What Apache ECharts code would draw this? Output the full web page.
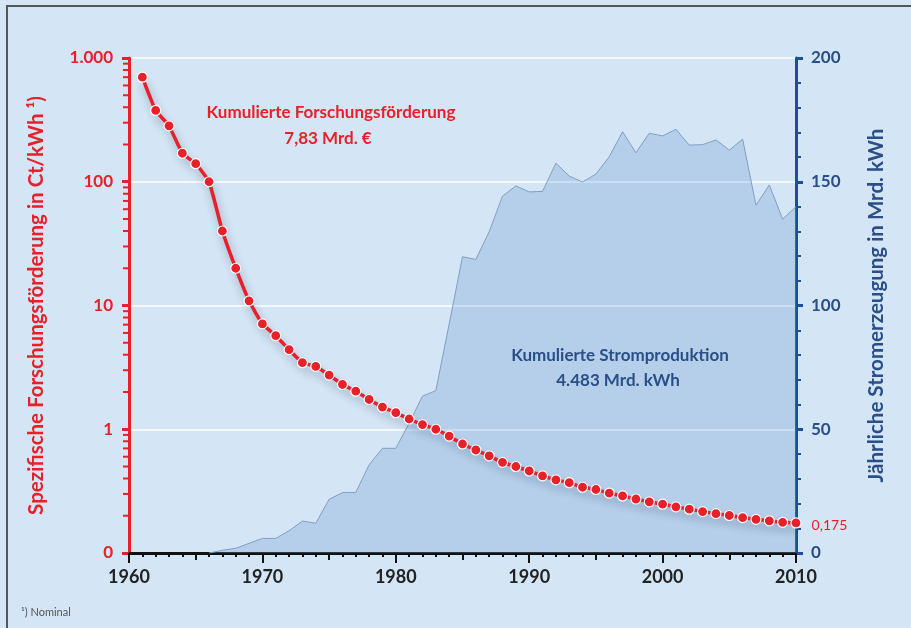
<!DOCTYPE html>
<html>
<head>
<meta charset="utf-8">
<script src="https://cdn.jsdelivr.net/npm/echarts@6/dist/echarts.min.js"></script>
<style>
  html, body { margin: 0; padding: 0; background: #d4e5f5; }
  #main { width: 911px; height: 628px; }
</style>
</head>
<body>
<div id="main"></div>
<script>
// Jahre mit Förderwerten (1961-2010)
const foerderJahre = [1961, 1962, 1963, 1964, 1965, 1966, 1967, 1968, 1969, 1970,
  1971, 1972, 1973, 1974, 1975, 1976, 1977, 1978, 1979, 1980,
  1981, 1982, 1983, 1984, 1985, 1986, 1987, 1988, 1989, 1990,
  1991, 1992, 1993, 1994, 1995, 1996, 1997, 1998, 1999, 2000,
  2001, 2002, 2003, 2004, 2005, 2006, 2007, 2008, 2009, 2010];
// Spezifische Forschungsförderung in Ct/kWh
const foerderung = [700, 377, 283, 170, 140, 100, 40, 20, 10.9, 7.1,
  5.7, 4.4, 3.45, 3.22, 2.74, 2.30, 2.03, 1.74, 1.51, 1.36,
  1.21, 1.09, 1.0, 0.88, 0.76, 0.68, 0.61, 0.54, 0.50, 0.46,
  0.42, 0.39, 0.37, 0.34, 0.326, 0.305, 0.289, 0.273, 0.259, 0.248,
  0.236, 0.226, 0.216, 0.208, 0.201, 0.193, 0.187, 0.182, 0.177, 0.175];

// Jährliche Stromerzeugung in Mrd. kWh (1966-2010)
const stromJahre = [1966, 1967, 1968, 1969, 1970,
  1971, 1972, 1973, 1974, 1975, 1976, 1977, 1978, 1979, 1980,
  1981, 1982, 1983, 1984, 1985, 1986, 1987, 1988, 1989, 1990,
  1991, 1992, 1993, 1994, 1995, 1996, 1997, 1998, 1999, 2000,
  2001, 2002, 2003, 2004, 2005, 2006, 2007, 2008, 2009, 2010];
const strom = [0, 1.1, 1.9, 3.9, 5.9,
  5.9, 9.0, 12.9, 12.0, 21.7, 24.4, 24.5, 35.6, 42.3, 42.3,
  52.4, 63.4, 65.6, 92.5, 119.7, 118.6, 129.8, 144.2, 148.3, 145.9,
  146.1, 157.5, 152.3, 149.9, 153.1, 160.1, 170.2, 161.7, 169.6, 168.5,
  171.2, 164.8, 165.0, 166.9, 162.8, 167.2, 140.5, 148.7, 134.9, 139.9];

// Achsenbeschriftung links (log)
const logTickLabels = { 1000: '1.000', 100: '100', 10: '10', 1: '1', 0.1: '0' };

const ROT = '#e8202a';
const BLAU = '#1b4f9b';
const BLAU_TEXT = '#2a4f86';
const FONT = 'Lato, "Open Sans", sans-serif';

// kleine Teilstriche der log-Achse (2..9 je Dekade)
const logMinor = [];
[0.1, 1, 10, 100].forEach(d => {
  for (let k = 2; k <= 9; k++) logMinor.push([1960, d * k]);
});

const chart = echarts.init(document.getElementById('main'), null, { renderer: 'canvas' });

const option = {
  backgroundColor: '#d4e5f5',
  animation: false,
  grid: { left: 129, right: 115, top: 58, bottom: 75 },
  xAxis: [{
    type: 'value',
    min: 1960, max: 2010, interval: 5,
    axisLine: { show: true, onZero: false, lineStyle: { color: '#111', width: 3 } },
    axisTick: { show: true, length: 7, lineStyle: { color: '#111', width: 2 } },
    minorTick: { show: true, splitNumber: 5, length: 4, lineStyle: { color: '#111', width: 2 } },
    axisLabel: {
      margin: 15, color: '#222', fontFamily: FONT, fontWeight: 'bold', fontSize: 18,
      formatter: v => (v % 10 === 0 ? String(v) : '')
    },
    splitLine: { show: false }
  }, {
    type: 'value',
    position: 'bottom',
    min: 1960, max: 2010, interval: 10,
    axisLine: { show: false },
    axisTick: { show: true, length: 10, lineStyle: { color: '#111', width: 2 } },
    axisLabel: { show: false },
    splitLine: { show: false }
  }],
  yAxis: [{
    type: 'log',
    logBase: 10,
    min: 0.1, max: 1000,
    position: 'left',
    name: 'Spezifische Forschungsförderung in Ct/kWh ¹)',
    nameLocation: 'middle',
    nameGap: 82,
    nameTextStyle: { color: ROT, fontFamily: FONT, fontSize: 20.5, fontWeight: 'bold' },
    axisLine: { show: true, lineStyle: { color: ROT, width: 3 } },
    axisTick: { show: true, length: 7, lineStyle: { color: ROT, width: 3 } },
    axisLabel: {
      margin: 16, color: ROT, fontFamily: FONT, fontSize: 17, fontWeight: 'bold',
      formatter: v => logTickLabels[+v.toPrecision(3)] || ''
    },
    splitLine: { show: true, lineStyle: { color: '#ffffff', width: 1.5 } }
  }, {
    type: 'value',
    min: 0, max: 200, interval: 50,
    position: 'right',
    name: 'Jährliche Stromerzeugung in Mrd. kWh',
    nameLocation: 'middle',
    nameGap: 70,
    nameTextStyle: { color: BLAU_TEXT, fontFamily: FONT, fontSize: 20.5, fontWeight: 'bold' },
    axisLine: { show: true, lineStyle: { color: BLAU, width: 3 } },
    axisTick: { show: true, length: 7, lineStyle: { color: BLAU, width: 3 } },
    minorTick: { show: true, splitNumber: 5, length: 5, lineStyle: { color: BLAU, width: 2 } },
    axisLabel: { margin: 15, color: BLAU_TEXT, fontFamily: FONT, fontSize: 17, fontWeight: 'bold' },
    splitLine: { show: false }
  }],
  graphic: [
    {
      type: 'polyline', silent: true, z: 100,
      shape: { points: [[7, 628], [7, 6], [911, 6]] },
      style: { stroke: '#555', lineWidth: 2, fill: null }
    },
    {
      type: 'text', silent: true, z: 100, x: 331, y: 113,
      style: { text: 'Kumulierte Forschungsförderung', fill: ROT, font: 'bold 17px ' + FONT, textAlign: 'center', textVerticalAlign: 'middle' }
    },
    {
      type: 'text', silent: true, z: 100, x: 328, y: 139,
      style: { text: '7,83 Mrd. €', fill: ROT, font: 'bold 17px ' + FONT, textAlign: 'center', textVerticalAlign: 'middle' }
    },
    {
      type: 'text', silent: true, z: 100, x: 620, y: 356,
      style: { text: 'Kumulierte Stromproduktion', fill: BLAU_TEXT, font: 'bold 17px ' + FONT, textAlign: 'center', textVerticalAlign: 'middle' }
    },
    {
      type: 'text', silent: true, z: 100, x: 618, y: 381,
      style: { text: '4.483 Mrd. kWh', fill: BLAU_TEXT, font: 'bold 17px ' + FONT, textAlign: 'center', textVerticalAlign: 'middle' }
    },
    {
      type: 'text', silent: true, z: 100, x: 21, y: 612,
      style: { text: '¹) Nominal', fill: '#555', font: '11px ' + FONT, textVerticalAlign: 'middle' }
    }
  ],
  series: [
    {
      name: 'Stromerzeugung',
      type: 'line',
      xAxisIndex: 0,
      yAxisIndex: 1,
      data: stromJahre.map((j, i) => [j, strom[i]]),
      symbol: 'none',
      lineStyle: { color: '#7f9fc6', width: 1 },
      areaStyle: { color: 'rgba(110,155,210,0.42)', origin: 'start' },
      z: 2
    },
    {
      name: 'Forschungsförderung',
      type: 'line',
      xAxisIndex: 0,
      yAxisIndex: 0,
      data: foerderJahre.map((j, i) => {
        const item = { value: [j, foerderung[i]] };
        if (i === foerderJahre.length - 1) {
          item.label = {
            show: true, position: 'right', distance: 10, offset: [0, 3],
            color: ROT, fontFamily: FONT, fontSize: 14,
            formatter: p => String(p.value[1]).replace('.', ',')
          };
        }
        return item;
      }),
      smooth: 0.15,
      symbol: 'circle',
      symbolSize: 10,
      itemStyle: { color: ROT, borderColor: '#ffffff', borderWidth: 1.2 },
      lineStyle: {
        color: ROT, width: 3.5,
        shadowColor: 'rgba(40,50,80,0.4)', shadowBlur: 9, shadowOffsetX: 2, shadowOffsetY: 6
      },
      z: 5
    },
    {
      // kleine Teilstriche der log-Achse
      type: 'custom',
      xAxisIndex: 0,
      yAxisIndex: 0,
      silent: true,
      clip: false,
      data: logMinor,
      renderItem: (params, api) => {
        const p = api.coord([api.value(0), api.value(1)]);
        return {
          type: 'line',
          shape: { x1: p[0] - 6, y1: p[1], x2: p[0], y2: p[1] },
          style: { stroke: ROT, lineWidth: 2 }
        };
      },
      z: 6
    }
  ]
};

chart.setOption(option);
</script>
</body>
</html>
